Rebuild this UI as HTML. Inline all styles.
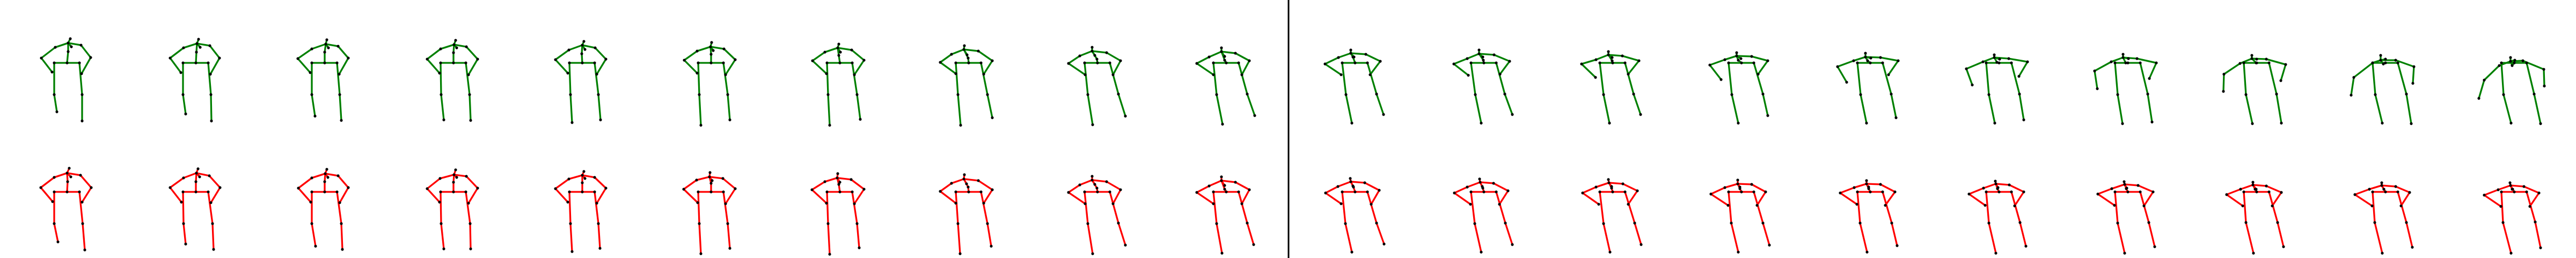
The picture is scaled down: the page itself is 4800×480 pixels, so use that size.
<!DOCTYPE html>
<html><head><meta charset="utf-8"><style>
html,body{margin:0;padding:0;background:#fff;}
svg{display:block;}
</style></head><body>
<svg id="chart" width="4800" height="480" viewBox="0 0 4800 480" xmlns="http://www.w3.org/2000/svg">
<rect x="0" y="0" width="4800" height="480" fill="#fff"/>
<line x1="2401" y1="0" x2="2401" y2="480" stroke="#000" stroke-width="3"/>
</svg>
<script>
// joint order: hip, rhip, rknee, rankle, lhip, lknee, lankle, spine, neck, nose, head, lsho, lelb, lwri, rsho, relb, rwri
const greenPoses = [
[[125,117],[101,117],[101,176],[106,208],[148,117],[153,176],[153,225],[127,96],[127,80],[133,87],[131,72],[151,84],[169,107],[152,137],[103,88],[77,108],[97,134]],
[[125,117],[101,117],[101,176],[106,212],[148,117],[153,176],[154,225],[126,97],[127,81],[133,88],[130,73],[151,85],[169,108],[152,138],[102,89],[77,108],[97,135]],
[[125,117],[101,117],[101,176],[107,216],[148,117],[153,176],[156,224],[125,97],[127,82],[132,89],[129,74],[150,86],[169,108],[152,138],[101,91],[75,109],[98,135]],
[[125,117],[101,117],[102,176],[107,223],[148,117],[155,176],[157,224],[125,98],[126,83],[131,89],[129,75],[149,87],[170,110],[153,139],[101,91],[76,110],[99,136]],
[[125,117],[101,117],[103,176],[106,228],[148,117],[155,176],[159,223],[124,100],[125,84],[130,92],[128,77],[149,89],[169,110],[152,138],[100,93],[75,111],[98,136]],
[[125,117],[101,117],[103,176],[106,233],[148,117],[156,176],[160,223],[125,101],[124,87],[129,94],[126,79],[149,91],[170,111],[152,139],[99,95],[75,112],[99,136]],
[[125,117],[101,117],[103,176],[106,233],[148,117],[157,176],[163,222],[123,103],[121,89],[126,97],[123,82],[147,93],[170,112],[152,139],[97,97],[74,113],[100,137]],
[[125,117],[101,117],[105,176],[110,233],[148,117],[160,176],[169,219],[124,108],[116,92],[122,102],[117,85],[143,95],[169,113],[153,138],[93,101],[72,116],[101,137]],
[[125,117],[101,117],[107,176],[116,232],[148,117],[164,175],[177,216],[124,110],[115,95],[120,103],[115,88],[142,98],[168,113],[154,139],[92,104],[71,118],[102,139]],
[[125,117],[101,117],[107,176],[118,231],[148,117],[164,175],[178,215],[122,112],[116,96],[122,105],[116,89],[142,99],[168,113],[154,139],[93,106],[70,118],[101,139]],
[[125,117],[101,117],[108,176],[119,229],[148,117],[165,175],[178,213],[121,106],[117,99],[123,106],[117,93],[145,101],[172,114],[153,139],[94,107],[69,119],[99,139]],
[[125,117],[101,117],[109,176],[120,229],[148,117],[164,175],[178,213],[124,112],[116,100],[123,106],[116,93],[144,102],[173,114],[155,138],[94,109],[69,119],[96,140]],
[[125,117],[101,117],[108,176],[119,229],[148,117],[164,175],[177,213],[124,113],[117,102],[124,107],[117,96],[143,104],[174,113],[154,138],[94,111],[67,119],[93,144]],
[[125,117],[101,117],[107,176],[119,229],[148,117],[165,175],[174,215],[119,112],[116,104],[124,109],[116,98],[144,105],[174,113],[156,138],[94,111],[66,121],[87,148]],
[[125,117],[101,117],[107,176],[118,229],[148,117],[164,175],[173,219],[120,113],[116,106],[126,108],[116,99],[144,107],[177,113],[159,139],[94,113],[64,124],[81,153]],
[[125,117],[101,117],[106,176],[117,229],[148,117],[163,175],[171,223],[121,116],[116,107],[126,110],[116,102],[143,109],[178,115],[162,142],[95,115],[64,128],[75,158]],
[[125,117],[101,117],[106,176],[115,230],[148,117],[162,175],[170,227],[121,117],[116,107],[126,109],[116,101],[142,109],[178,117],[165,146],[94,115],[63,132],[68,165]],
[[125,117],[101,117],[105,176],[117,230],[148,117],[162,175],[171,229],[124,117],[116,109],[125,110],[116,103],[143,110],[179,120],[170,150],[94,118],[64,138],[63,170]],
[[125,117],[101,117],[106,176],[119,229],[148,117],[164,175],[173,230],[121,119],[116,112],[125,110],[116,103],[144,112],[178,124],[176,155],[101,117],[66,144],[61,177]],
[[125,117],[101,117],[105,176],[119,229],[148,117],[162,175],[174,230],[121,122],[118,114],[126,112],[118,107],[141,113],[180,129],[181,160],[97,122],[69,149],[59,183]]
];
const redPoses = [
[[125,117],[101,117],[101,176],[108,210],[148,117],[154,176],[158,225],[126,98],[125,82],[132,89],[129,73],[150,86],[170,109],[153,136],[101,90],[76,109],[98,135]],
[[125,117],[101,117],[102,176],[106,214],[148,117],[156,176],[158,224],[125,98],[126,82],[132,89],[129,74],[150,87],[170,109],[153,137],[102,91],[77,109],[98,136]],
[[125,117],[101,117],[101,176],[108,218],[148,117],[156,176],[158,224],[125,98],[126,83],[131,90],[129,75],[150,87],[169,109],[153,137],[101,91],[76,110],[99,136]],
[[125,117],[101,117],[102,176],[107,223],[148,117],[156,176],[157,223],[125,99],[126,85],[131,90],[129,76],[149,88],[170,110],[153,138],[100,92],[76,111],[99,136]],
[[125,117],[101,117],[103,176],[106,228],[148,117],[155,176],[158,222],[125,100],[125,86],[130,92],[128,79],[148,90],[169,110],[152,138],[100,93],[75,111],[98,136]],
[[125,117],[101,117],[103,176],[106,232],[148,117],[156,176],[160,222],[125,101],[122,89],[127,96],[123,81],[147,92],[170,111],[152,139],[98,95],[74,112],[100,137]],
[[125,117],[101,117],[103,176],[106,233],[148,117],[157,176],[161,221],[123,103],[120,91],[125,99],[121,83],[146,94],[170,112],[152,139],[97,98],[73,113],[100,138]],
[[125,117],[101,117],[105,176],[109,232],[148,117],[160,176],[167,218],[124,108],[116,93],[121,102],[117,85],[143,96],[169,113],[153,138],[93,101],[72,116],[101,138]],
[[125,117],[101,117],[107,176],[116,232],[148,117],[164,175],[177,216],[124,110],[115,95],[120,103],[115,88],[142,98],[168,113],[154,139],[92,104],[71,118],[102,139]],
[[125,117],[101,117],[107,176],[117,231],[148,117],[164,175],[176,215],[122,112],[116,96],[122,105],[116,89],[142,99],[168,113],[154,139],[93,106],[70,118],[101,139]],
[[125,117],[101,117],[107,176],[119,229],[148,117],[165,175],[179,214],[122,108],[117,98],[121,106],[116,92],[143,100],[170,114],[155,140],[93,107],[70,119],[99,139]],
[[125,117],[101,117],[108,176],[120,229],[148,117],[165,175],[178,215],[123,110],[118,99],[122,107],[117,93],[143,101],[170,115],[154,140],[94,108],[70,119],[100,140]],
[[125,117],[101,117],[108,176],[120,229],[148,117],[166,175],[178,215],[123,110],[118,100],[123,107],[117,94],[144,102],[171,115],[154,140],[94,108],[69,119],[99,140]],
[[125,117],[101,117],[106,175],[119,229],[148,117],[165,175],[177,216],[122,111],[118,102],[122,108],[118,95],[144,103],[170,117],[154,142],[94,109],[68,121],[100,142]],
[[125,117],[101,117],[106,175],[119,229],[148,117],[165,175],[175,217],[122,111],[118,102],[122,108],[118,96],[144,103],[171,117],[153,142],[95,109],[69,119],[100,140]],
[[125,117],[101,117],[106,175],[119,231],[148,117],[164,174],[175,218],[122,111],[119,102],[123,109],[118,97],[144,104],[171,117],[154,143],[96,110],[69,121],[99,142]],
[[125,117],[101,117],[106,175],[119,231],[148,117],[164,174],[175,219],[122,111],[119,103],[123,110],[118,98],[144,105],[172,117],[155,143],[95,111],[69,121],[100,142]],
[[125,117],[101,117],[105,174],[119,231],[148,117],[164,174],[175,219],[122,112],[118,104],[124,112],[118,99],[143,106],[171,118],[154,143],[95,112],[69,122],[99,143]],
[[125,117],[101,117],[105,174],[119,231],[148,117],[164,174],[175,220],[122,112],[118,105],[122,112],[118,100],[144,107],[170,118],[154,143],[95,112],[68,122],[100,143]],
[[125,117],[101,117],[104,174],[119,231],[148,117],[164,173],[174,221],[122,112],[118,105],[121,112],[117,100],[143,107],[171,119],[154,144],[95,113],[69,123],[100,144]]
];
const bones = [[0,1],[1,2],[2,3],[0,4],[4,5],[5,6],[0,7],[7,8],[8,9],[8,10],[8,11],[11,12],[12,13],[8,14],[14,15],[15,16]];
const panelWidth = 240, rowHeight = 240;
const NS = 'http://www.w3.org/2000/svg';
const svg = document.getElementById('chart');
function xPos(frame, v){ return frame*panelWidth + v; }
function yPos(row, v){ return row*rowHeight + v; }
function drawRow(poses, row, color, label){
  poses.forEach((pose, f) => {
    const g = document.createElementNS(NS, 'g');
    
    
    bones.forEach(b => {
      const l = document.createElementNS(NS, 'line');
      l.setAttribute('x1', xPos(f, pose[b[0]][0])); l.setAttribute('y1', yPos(row, pose[b[0]][1]));
      l.setAttribute('x2', xPos(f, pose[b[1]][0])); l.setAttribute('y2', yPos(row, pose[b[1]][1]));
      l.setAttribute('stroke', color); l.setAttribute('stroke-width', '3.3'); l.setAttribute('stroke-linecap', 'round');
      
      
      g.appendChild(l);
    });
    pose.forEach(p => {
      const c = document.createElementNS(NS, 'circle');
      c.setAttribute('cx', xPos(f, p[0])); c.setAttribute('cy', yPos(row, p[1])); c.setAttribute('r', '2.6');
      c.setAttribute('fill', '#000');
      
      
      g.appendChild(c);
    });
    svg.appendChild(g);
  });
}
drawRow(greenPoses, 0, '#008000', 'ground-truth');
drawRow(redPoses, 1, '#ff0000', 'prediction');
</script>
</body></html>
